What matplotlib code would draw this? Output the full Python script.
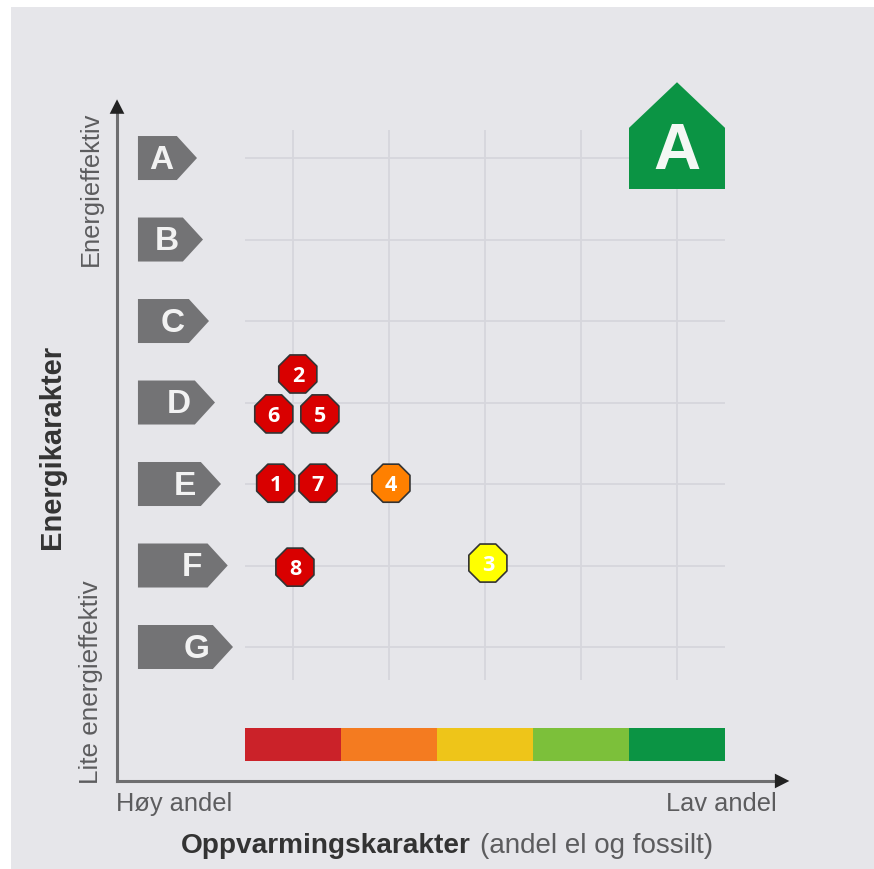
import matplotlib
matplotlib.use('Agg')
import matplotlib.pyplot as plt
from matplotlib.patches import Polygon, Rectangle

plt.rcParams['font.family'] = ['Liberation Sans', 'DejaVu Sans']

# energikarakter, A oeverst
grades = ['A', 'B', 'C', 'D', 'E', 'F', 'G']
grade_values = [7, 6, 5, 4, 3, 2, 1]
tag_tips = [0.0, 0.0625, 0.125, 0.1875, 0.25, 0.32, 0.375]

# oppvarmingskarakter
heat_values = [1, 2, 3, 4, 5]
heat_colors = ['#cb2229', '#f47b20', '#eec519', '#7cc03a', '#0b9444']

# bygg 1-8
numbers = ['1', '2', '3', '4', '5', '6', '7', '8']
heat = [0.82, 1.05, 3.03, 2.02, 1.28, 0.80, 1.26, 1.02]
energy = [3.01, 4.35, 2.03, 3.01, 3.86, 3.86, 3.01, 1.98]
colors = ['#d90000', '#d90000', '#ffff00', '#ff8000', '#d90000', '#d90000', '#d90000', '#d90000']

# bygget som helhet
house_heat = 5
house_energy = 7
house_label = 'A'

gray = '#6e6e70'
text_gray = '#5c5c5e'

fig = plt.figure(figsize=(8.74, 8.69), dpi=100, facecolor='white')
ax = fig.add_axes([0, 0, 1, 1])
ax.set_xlim(-2.052, 7.052)
ax.set_ylim(-1.724, 8.939)
ax.axis('off')

#bakgrunn
ax.add_patch(Rectangle((11 / 874, 0), 1, 862 / 869, transform=ax.transAxes,
                       facecolor='#e6e6ea', edgecolor='none', zorder=0))

#rutenett
ax.hlines(grade_values, 0.5, 5.5, color='#d6d6dc', lw=1.3, zorder=1)
ax.vlines(heat_values, 0.6, 7.34, color='#d6d6dc', lw=1.3, zorder=1)

#akser
ax.plot([-0.833, -0.833], [-0.644, 7.55], color=gray, lw=2.2, zorder=2)
ax.plot([-0.833, 6.05], [-0.644, -0.644], color=gray, lw=2.2, zorder=2)
ax.annotate('', xy=(-0.833, 7.72), xytext=(-0.833, 7.4),
            arrowprops=dict(arrowstyle='-|>,head_width=0.33,head_length=0.65', color='#222222',
                            lw=0, shrinkA=0, shrinkB=0, mutation_scale=16), zorder=3)
ax.annotate('', xy=(6.17, -0.644), xytext=(5.9, -0.644),
            arrowprops=dict(arrowstyle='-|>,head_width=0.33,head_length=0.65', color='#222222',
                            lw=0, shrinkA=0, shrinkB=0, mutation_scale=16), zorder=3)

#karakter-piler
left = -0.615
half = 0.27
for g, v, tip in zip(grades, grade_values, tag_tips):
    pts = [(left, v + half), (tip - 0.21, v + half), (tip, v), (tip - 0.21, v - half), (left, v - half)]
    ax.add_patch(Polygon(pts, closed=True, facecolor='#737375', edgecolor='none', zorder=3))
    ax.text(tip - 0.375, v - 0.03, g, color='#f2f2f2', fontsize=24, fontweight='bold',
            ha='center', va='center', zorder=4)

#fargeskala
ax.bar(heat_values, 0.405, width=1, bottom=-0.4, color=heat_colors, zorder=3)

#hus oeverst til hoeyre
hx = house_heat
hy = house_energy
ax.add_patch(Polygon([(hx - 0.5, hy - 0.38), (hx - 0.5, hy + 0.37), (hx, hy + 0.93),
                      (hx + 0.5, hy + 0.37), (hx + 0.5, hy - 0.38)],
                     closed=True, facecolor=heat_colors[-1], edgecolor='none', zorder=3))
ax.text(hx, hy + 0.07, house_label, color='#f4f8f4', fontsize=47, fontweight='bold',
        ha='center', va='center', zorder=4)

#byggene
ax.scatter(heat, energy, s=880, marker='8', c=colors, edgecolors='#333333', linewidths=1.2, zorder=5)
for n, x, y in zip(numbers, heat, energy):
    ax.text(x, y - 0.03, n, color='white', fontsize=15.5, fontweight='bold',
            family=['Open Sans', 'DejaVu Sans'], ha='center', va='center', zorder=6)

#tekst
ax.text(-1.104, 6.626, 'Energieffektiv', rotation=90, color=text_gray, fontsize=18.4, ha='center', va='center')
ax.text(-1.104, 0.57, 'Lite energieffektiv', rotation=90, color=text_gray, fontsize=18.8, ha='center', va='center')
ax.text(-1.51, 3.46, 'Energikarakter', rotation=90, color='#333333', fontsize=21, fontweight='bold',
        ha='center', va='center')
ax.text(-0.84, -0.93, 'Høy andel', color=text_gray, fontsize=18.3, ha='left', va='center')
ax.text(6.04, -0.93, 'Lav andel', color=text_gray, fontsize=18.3, ha='right', va='center')
ax.text(-0.17, -1.44, 'Oppvarmingskarakter', color='#333333', fontsize=20.2, fontweight='bold',
        ha='left', va='center')
ax.text(2.95, -1.44, '(andel el og fossilt)', color=text_gray, fontsize=20, ha='left', va='center')

plt.savefig('out.png', dpi=100)
